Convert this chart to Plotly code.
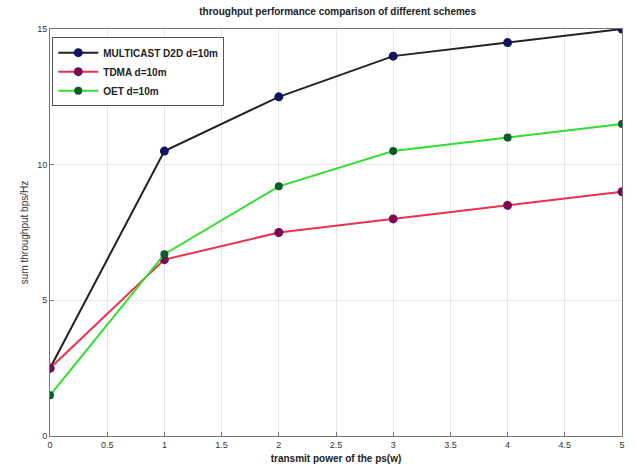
import plotly.graph_objects as go

power = [0, 1, 2, 3, 4, 5]
multicast = [2.5, 10.5, 12.5, 14.0, 14.5, 15.0]
tdma = [2.5, 6.5, 7.5, 8.0, 8.5, 9.0]
oet = [1.5, 6.7, 9.2, 10.5, 11.0, 11.5]
names = ["MULTICAST D2D d=10m", "TDMA d=10m", "OET d=10m"]
x_ticks = [0, 0.5, 1, 1.5, 2, 2.5, 3, 3.5, 4, 4.5, 5]
y_ticks = [0, 5, 10, 15]

fig = go.Figure()
fig.add_trace(go.Scatter(x=power, y=multicast, name="<b>" + names[0] + "</b>", mode="lines+markers",
                         line=dict(color="#222222", width=2),
                         marker=dict(color="#14145e", size=9)))
fig.add_trace(go.Scatter(x=power, y=tdma, name="<b>" + names[1] + "</b>", mode="lines+markers",
                         line=dict(color="#f0304a", width=2),
                         marker=dict(color="#7a0a50", size=9)))
fig.add_trace(go.Scatter(x=power, y=oet, name="<b>" + names[2] + "</b>", mode="lines+markers",
                         line=dict(color="#30e030", width=2),
                         marker=dict(color="#0a5a2a", size=8)))

fig.update_layout(
    width=637, height=475,
    margin=dict(l=50, r=12, t=29, b=38),
    paper_bgcolor="white", plot_bgcolor="white",
    font=dict(family="Liberation Sans, Arial", size=9, color="#333333"),
    title=dict(text="<b>throughput performance comparison of different schemes</b>",
               x=0.53, xanchor="center", y=0.975, yanchor="middle",
               font=dict(size=10, color="#222222")),
    showlegend=True,
    legend=dict(x=0.004, y=0.98, xanchor="left", yanchor="top",
                bgcolor="white", bordercolor="#555555", borderwidth=1,
                font=dict(size=10, color="#222222"), itemwidth=40,
                tracegroupgap=4),
)
fig.update_xaxes(range=[0, 5], tickvals=x_ticks, ticktext=[str(v) for v in x_ticks],
                 showgrid=True, gridcolor="#e6e6e6", zeroline=False,
                 showline=True, linecolor="#777777", linewidth=1, mirror=True,
                 ticks="inside", ticklen=4, tickcolor="#777777",
                 title=dict(text="<b>transmit power of the ps(w)</b>", standoff=6,
                            font=dict(size=10, color="#222222")),
                 tickfont=dict(size=9, color="#333333"))
fig.update_yaxes(range=[0, 15], tickvals=y_ticks, ticktext=[str(v) for v in y_ticks],
                 showgrid=True, gridcolor="#e6e6e6", zeroline=False,
                 showline=True, linecolor="#777777", linewidth=1, mirror=True,
                 ticks="inside", ticklen=4, tickcolor="#777777",
                 title=dict(text="sum throughput bps/Hz", standoff=6,
                            font=dict(size=10, color="#333333")),
                 tickfont=dict(size=9, color="#333333"))

fig.write_html("out.html")
